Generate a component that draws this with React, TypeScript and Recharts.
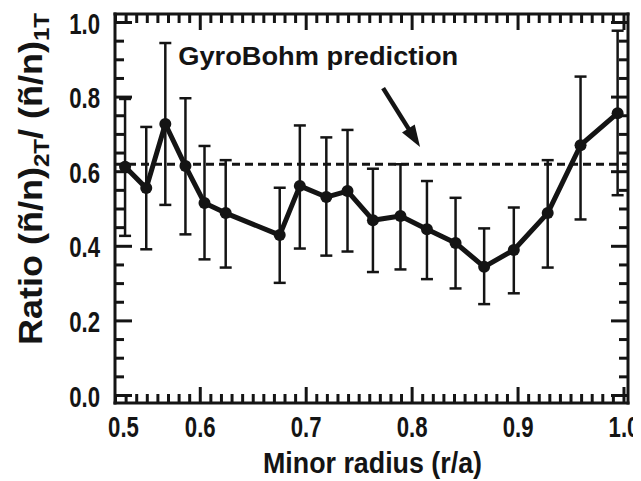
import React from "react";
import {
  LineChart,
  Line,
  XAxis,
  YAxis,
  ErrorBar,
  ReferenceLine,
  ReferenceDot,
} from "recharts";

// ---- data ----
const RADIUS = [0.529, 0.549, 0.567, 0.586, 0.604, 0.624, 0.675, 0.694, 0.719, 0.739, 0.763, 0.789, 0.814, 0.841, 0.868, 0.896, 0.928, 0.959, 0.994];
const RATIO = [0.613, 0.556, 0.728, 0.615, 0.516, 0.489, 0.430, 0.562, 0.532, 0.548, 0.470, 0.481, 0.446, 0.409, 0.345, 0.390, 0.489, 0.671, 0.757];
const UPPER = [0.795, 0.720, 0.945, 0.797, 0.669, 0.631, 0.557, 0.724, 0.692, 0.712, 0.608, 0.620, 0.575, 0.530, 0.448, 0.504, 0.631, 0.855, 0.978];
const LOWER = [0.428, 0.392, 0.511, 0.432, 0.365, 0.343, 0.302, 0.394, 0.375, 0.386, 0.331, 0.338, 0.312, 0.287, 0.245, 0.274, 0.343, 0.472, 0.537];

const GYROBOHM = 0.62;
const X_MAJOR = [0.6, 0.7, 0.8, 0.9, 1.0];
const X_LABELS = ["0.6", "0.7", "0.8", "0.9", "1.0"];
const X_CORNER_LABEL = "0.5";
const Y_MAJOR = [0.0, 0.2, 0.4, 0.6, 0.8, 1.0];
const Y_LABELS = ["0.0", "0.2", "0.4", "0.6", "0.8", "1.0"];
const X_DOMAIN: [number, number] = [0.5195, 1.0038];
const Y_DOMAIN: [number, number] = [-0.0201, 1.0228];
const ARROW = [
  { x: 0.7726, y: 0.824 },
  { x: 0.8075, y: 0.666 },
];
const NOTE = { x: 0.5792, y: 0.886, text: "GyroBohm prediction" };

const X_TICKS: number[] = [];
for (let i = 52; i <= 100; i++) X_TICKS.push(i / 100);
const Y_TICKS: number[] = [];
for (let i = 0; i <= 20; i++) Y_TICKS.push(i / 20);

const data = RADIUS.map((r, i) => ({
  r,
  ratio: RATIO[i],
  err: [RATIO[i] - LOWER[i], UPPER[i] - RATIO[i]],
}));

const INK = "#141414";
const FONT = '"Liberation Sans", Arial, Helvetica, sans-serif';

// plot box in pixels (used only to turn tick lengths into data units)
const PLOT_W = 641 - 115 - 13;
const PLOT_H = 481 - 14 - 78;
const X_PER_PX = (X_DOMAIN[1] - X_DOMAIN[0]) / PLOT_W;
const Y_PER_PX = (Y_DOMAIN[1] - Y_DOMAIN[0]) / PLOT_H;

const near = (a: number, b: number) => Math.abs(a - b) < 1e-6;
const isXMajor = (v: number) => X_MAJOR.some((m) => near(m, v));
const isYMajor = (v: number) => Y_MAJOR.some((m) => near(m, v));

const NumLabel = ({ x, y, anchor, text }: any) => (
  <g transform={`translate(${x},${y}) scale(0.74,1)`}>
    <text x={0} y={0} textAnchor={anchor} fontFamily={FONT} fontWeight="bold" fontSize={30} fill={INK}>
      {text}
    </text>
  </g>
);

const XLabelShape = (p: any, v: number) => {
  const { x1, y1, y2 } = p;
  if (typeof x1 !== "number") return <g />;
  const bot = Math.max(y1, y2);
  const idx = X_MAJOR.findIndex((m) => near(m, v));
  const first = near(v, X_TICKS[0]);
  return (
    <g>
      {idx >= 0 && <NumLabel x={x1} y={bot + 34} anchor="middle" text={X_LABELS[idx]} />}
      {first && <NumLabel x={x1 + 8} y={bot + 34} anchor="middle" text={X_CORNER_LABEL} />}
    </g>
  );
};

const YLabelShape = (p: any, v: number) => {
  const { x1, x2, y1 } = p;
  if (typeof y1 !== "number") return <g />;
  const left = Math.min(x1, x2);
  const idx = Y_MAJOR.findIndex((m) => near(m, v));
  return <g>{idx >= 0 && <NumLabel x={left - 15} y={y1 + 11} anchor="end" text={Y_LABELS[idx]} />}</g>;
};

const XTitle = () => (
  <text x={372.5} y={473} textAnchor="middle" fontFamily={FONT} fontWeight="bold" fontSize={30} fill={INK} textLength={219} lengthAdjust="spacingAndGlyphs">
    Minor radius (r/a)
  </text>
);

const YTitle = () => (
  <text
    transform="translate(42,179) rotate(-90)"
    textAnchor="middle"
    fontFamily={FONT}
    fontWeight="bold"
    fontSize={33}
    fill={INK}
    textLength={332}
    lengthAdjust="spacingAndGlyphs"
  >
    Ratio (ñ/n)
    <tspan fontSize={22} dy={7}>2T</tspan>
    <tspan fontSize={33} dy={-7}>/ (ñ/n)</tspan>
    <tspan fontSize={22} dy={7}>1T</tspan>
  </text>
);

const ArrowShape = (props: any) => {
  const { x1, y1, x2, y2 } = props;
  if (![x1, y1, x2, y2].every((n) => typeof n === "number")) return <g />;
  const dx = x2 - x1;
  const dy = y2 - y1;
  const L = Math.sqrt(dx * dx + dy * dy);
  const ux = dx / L;
  const uy = dy / L;
  const head = 22;
  const half = 7.5;
  const bx = x2 - ux * head;
  const by = y2 - uy * head;
  const pts = `${x2},${y2} ${bx - uy * half},${by + ux * half} ${bx + uy * half},${by - ux * half}`;
  return (
    <g>
      <line x1={x1} y1={y1} x2={bx + ux * 2} y2={by + uy * 2} stroke={INK} strokeWidth={4.5} />
      <polygon points={pts} fill={INK} />
    </g>
  );
};

const NoteShape = (props: any) => {
  const { cx, cy } = props;
  return (
    <text x={cx} y={cy} fontFamily={FONT} fontWeight="bold" fontSize={26} fill={INK} textLength={280} lengthAdjust="spacingAndGlyphs">
      {NOTE.text}
    </text>
  );
};

const axisLine = { stroke: INK, strokeWidth: 3, strokeLinecap: "square" as const };

const tickSegments: any[] = [];
X_TICKS.forEach((v) => {
  const len = (isXMajor(v) ? 16 : 9) * Y_PER_PX;
  tickSegments.push({ key: `xb-${v}`, seg: [{ x: v, y: Y_DOMAIN[0] }, { x: v, y: Y_DOMAIN[0] + len }] });
  tickSegments.push({ key: `xt-${v}`, seg: [{ x: v, y: Y_DOMAIN[1] }, { x: v, y: Y_DOMAIN[1] - len }] });
});
Y_TICKS.forEach((v) => {
  const len = (isYMajor(v) ? 17 : 9) * X_PER_PX;
  tickSegments.push({ key: `yl-${v}`, seg: [{ x: X_DOMAIN[0], y: v }, { x: X_DOMAIN[0] + len, y: v }] });
  tickSegments.push({ key: `yr-${v}`, seg: [{ x: X_DOMAIN[1], y: v }, { x: X_DOMAIN[1] - len, y: v }] });
});

export default function App() {
  return (
    <div style={{ marginLeft: -8, marginTop: -8, width: 641, height: 481 }}>
      <LineChart width={641} height={481} data={data} margin={{ top: 0, right: 0, bottom: 0, left: 0 }}>
        <XAxis
          xAxisId="bottom"
          dataKey="r"
          type="number"
          domain={X_DOMAIN}
          allowDataOverflow
          tick={false}
          tickLine={false}
          axisLine={axisLine}
          height={78}
          label={{ content: () => <XTitle /> }}
        />
        <XAxis
          xAxisId="top"
          orientation="top"
          dataKey="r"
          type="number"
          domain={X_DOMAIN}
          allowDataOverflow
          tick={false}
          tickLine={false}
          axisLine={axisLine}
          height={14}
        />
        <YAxis
          yAxisId="left"
          type="number"
          domain={Y_DOMAIN}
          allowDataOverflow
          tick={false}
          tickLine={false}
          axisLine={axisLine}
          width={115}
          label={{ content: () => <YTitle /> }}
        />
        <YAxis
          yAxisId="right"
          orientation="right"
          type="number"
          domain={Y_DOMAIN}
          allowDataOverflow
          tick={false}
          tickLine={false}
          axisLine={axisLine}
          width={13}
        />
        {tickSegments.map((t) => (
          <ReferenceLine
            key={t.key}
            xAxisId="bottom"
            yAxisId="left"
            segment={t.seg}
            ifOverflow="visible"
            stroke={INK}
            strokeWidth={3}
          />
        ))}
        {X_TICKS.map((v) => (
          <ReferenceLine
            key={`xl-${v}`}
            xAxisId="bottom"
            yAxisId="left"
            x={v}
            ifOverflow="visible"
            shape={(p: any) => XLabelShape(p, v)}
          />
        ))}
        {Y_TICKS.map((v) => (
          <ReferenceLine
            key={`yl-${v}`}
            xAxisId="bottom"
            yAxisId="left"
            y={v}
            ifOverflow="visible"
            shape={(p: any) => YLabelShape(p, v)}
          />
        ))}
        <ReferenceLine
          xAxisId="bottom"
          yAxisId="left"
          y={GYROBOHM}
          stroke={INK}
          strokeWidth={2.8}
          strokeDasharray="8 5"
        />
        <ReferenceLine
          xAxisId="bottom"
          yAxisId="left"
          segment={ARROW}
          shape={ArrowShape}
        />
        <ReferenceDot
          xAxisId="bottom"
          yAxisId="left"
          x={NOTE.x}
          y={NOTE.y}
          r={0}
          shape={NoteShape}
        />
        <Line
          xAxisId="bottom"
          yAxisId="left"
          dataKey="ratio"
          stroke={INK}
          strokeWidth={5}
          strokeLinejoin="round"
          dot={{ r: 6, fill: INK, stroke: INK, strokeWidth: 0 }}
          isAnimationActive={false}
        >
          <ErrorBar dataKey="err" direction="y" width={6} stroke={INK} strokeWidth={2.5} isAnimationActive={false} />
        </Line>
      </LineChart>
    </div>
  );
}
